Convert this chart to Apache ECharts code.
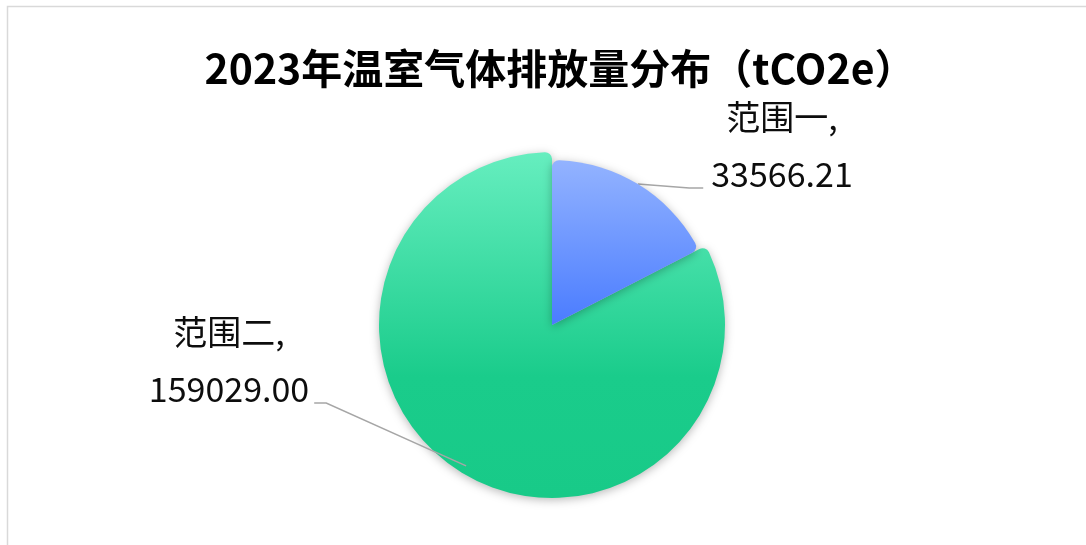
<!DOCTYPE html>
<html>
<head>
<meta charset="utf-8">
<script src="https://cdn.jsdelivr.net/npm/echarts@6/dist/echarts.min.js"></script>
<style>
  html, body { margin: 0; padding: 0; background: #fff; }
  #chart { width: 1086px; height: 545px; }
</style>
</head>
<body>
<div id="chart"></div>
<script>
// 排放范围与数值（tCO2e）
const scopeNames = ['范围一', '范围二']
const scopeValues = [33566.21, 159029.00]

const chart = echarts.init(document.getElementById('chart'))

const LABEL_FONT = '"Noto Sans CJK SC", "Noto Sans", sans-serif'

const gradients = [
  new echarts.graphic.LinearGradient(0, 0, 0, 1, [
    { offset: 0, color: '#93b3ff' },
    { offset: 1, color: '#4a7cff' }
  ]),
  new echarts.graphic.LinearGradient(0, 0, 0, 1, [
    { offset: 0, color: '#66eebf' },
    { offset: 0.65, color: '#1acc8b' },
    { offset: 1, color: '#18ca88' }
  ])
]

const TRANSPARENT = 'rgba(0,0,0,0)'

// label block centres, by data index
const labelCentres = [[782, 146], [229, 361]]

function layoutLabel(params) {
  const c = labelCentres[params.dataIndex]
  if (!c || !params.labelLinePoints) return {}
  const halfW = params.labelRect.width / 2
  const lineY = c[1] + 42
  const anchor = params.labelLinePoints[0]
  let pts
  if (params.dataIndex === 0) {
    const left = c[0] - halfW
    pts = [anchor, [left - 22, lineY], [left - 8, lineY]]
  } else {
    const right = c[0] + halfW
    pts = [anchor, [right + 17, lineY], [right + 5, lineY]]
  }
  return {
    x: c[0],
    y: c[1],
    align: 'center',
    verticalAlign: 'middle',
    labelLinePoints: pts
  }
}

const baseSeries = {
  type: 'pie',
  center: [552, 325],
  startAngle: 90,
  clockwise: true,
  avoidLabelOverlap: false,
  silent: true,
  itemStyle: {
    borderRadius: 7,
    shadowBlur: 10,
    shadowColor: 'rgba(0, 0, 0, 0.28)',
    shadowOffsetY: 2
  }
}

// 范围一 slice + all labels (drawn on top so the leader lines stay visible)
const labelSeries = Object.assign({}, baseSeries, {
  radius: 165,
  z: 3,
  label: {
    show: true,
    position: 'outside',
    color: '#0d0d0d',
    fontSize: 34,
    lineHeight: 57,
    fontFamily: LABEL_FONT,
    formatter: p => p.name + ',\n' + p.value.toFixed(2)
  },
  labelLine: {
    show: true,
    length: 15,
    length2: 15,
    lineStyle: { color: '#a6a6a6', width: 1.5 }
  },
  labelLayout: layoutLabel,
  data: scopeNames.map((name, i) => ({
    name: name,
    value: scopeValues[i],
    itemStyle: i === 0 ? { color: gradients[0] } : { color: TRANSPARENT, shadowBlur: 0 }
  }))
})

// 范围二 slice, a little larger
const bigSeries = Object.assign({}, baseSeries, {
  radius: 173,
  z: 2,
  label: { show: false },
  labelLine: { show: false },
  data: scopeNames.map((name, i) => ({
    name: name,
    value: scopeValues[i],
    itemStyle: i === 1 ? { color: gradients[1] } : { color: TRANSPARENT, shadowBlur: 0 }
  }))
})

const option = {
  animation: false,
  backgroundColor: '#fff',
  title: {
    text: '2023年温室气体排放量分布（tCO2e）',
    left: 560,
    top: 44,
    textAlign: 'center',
    padding: 0,
    textStyle: {
      fontSize: 41,
      fontWeight: 'bold',
      lineHeight: 48,
      color: '#000',
      fontFamily: LABEL_FONT
    }
  },
  graphic: [{
    type: 'rect',
    silent: true,
    shape: { x: 7.5, y: 6.5, width: 1200, height: 700 },
    style: { fill: 'none', stroke: '#d9d9d9', lineWidth: 1.5 }
  }],
  series: [bigSeries, labelSeries]
}

chart.setOption(option)
</script>
</body>
</html>
